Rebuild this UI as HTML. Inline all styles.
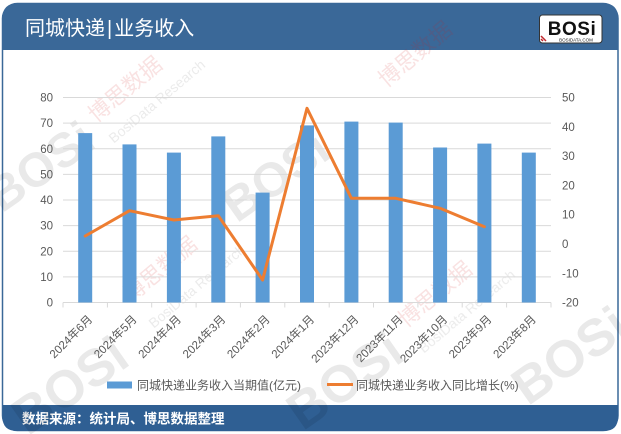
<!DOCTYPE html>
<html><head><meta charset="utf-8">
<style>
html,body{margin:0;padding:0;background:#fff;}
body{width:621px;height:434px;overflow:hidden;}
svg{display:block;font-family:"Liberation Sans","Noto Sans CJK SC",sans-serif;}
</style></head><body>
<svg width="621" height="434" viewBox="0 0 621 434" xmlns="http://www.w3.org/2000/svg">
<!-- frame -->
<rect x="2.5" y="3.5" width="615.5" height="427" rx="15" ry="15" fill="#ffffff" stroke="#3a6898" stroke-width="1.5"/>
<!-- header -->
<path d="M2.5,50 L2.5,18 Q2.5,3.5 17,3.5 L604,3.5 Q618,3.5 618,18 L618,50 Z" fill="#3a6898"/>
<text x="25" y="35" font-size="20" fill="#ffffff">同城快递<tspan dx="2">|</tspan><tspan dx="2">业务收入</tspan></text>
<!-- logo -->
<rect x="539.5" y="15" width="62.5" height="28" rx="3" fill="#ffffff" stroke="#333" stroke-width="1"/>
<text x="572" y="35" font-size="19" font-weight="bold" fill="#111" text-anchor="middle" font-family="Liberation Sans, sans-serif" letter-spacing="0.5">BOSi</text>
<text x="576" y="41.5" font-size="4.5" fill="#111" text-anchor="middle">BOSIDATA.COM</text>
<path d="M541,36 L546,41 M541,39 L543,41" stroke="#c0282d" stroke-width="1.5"/>
<!-- footer -->
<path d="M2.5,405 L618,405 L618,417 Q618,431 604,431 L17,431 Q2.5,431 2.5,417 Z" fill="#2f5f93"/>
<text x="22" y="423.5" font-size="13.5" fill="#ffffff" font-weight="bold">数据来源：统计局、博思数据整理</text>

<!-- watermarks -->
<g opacity="0.09" fill="#000" font-weight="bold" font-family="Liberation Sans, sans-serif">
<text x="50" y="180" font-size="48" transform="rotate(-35 50 180)" text-anchor="middle">BOSi</text>
<text x="285" y="190" font-size="48" transform="rotate(-35 285 190)" text-anchor="middle">BOSi</text>
<text x="80" y="400" font-size="52" transform="rotate(-35 80 400)" text-anchor="middle">BOSi</text>
<text x="355" y="395" font-size="52" transform="rotate(-35 355 395)" text-anchor="middle">BOSi</text>
<text x="580" y="370" font-size="52" transform="rotate(-35 580 370)" text-anchor="middle">BOSi</text>
</g>
<g opacity="0.13" fill="#d02020" font-size="22">
<text x="130" y="95" transform="rotate(-40 130 95)" text-anchor="middle">博思数据</text>
<text x="165" y="275" transform="rotate(-40 165 275)" text-anchor="middle">博思数据</text>
<text x="440" y="300" transform="rotate(-40 440 300)" text-anchor="middle">博思数据</text>
<text x="420" y="60" transform="rotate(-40 420 60)" text-anchor="middle">博思数据</text>
</g>
<g opacity="0.10" fill="#333" font-size="14">
<text x="160" y="105" transform="rotate(-40 160 105)" text-anchor="middle">BosiData Research</text>
<text x="200" y="290" transform="rotate(-40 200 290)" text-anchor="middle">BosiData Research</text>
<text x="470" y="315" transform="rotate(-40 470 315)" text-anchor="middle">BosiData Research</text>
</g>

<!-- gridlines -->
<g stroke="#d9d9d9" stroke-width="1">
<line x1="63" y1="97.5" x2="551" y2="97.5"/>
<line x1="63" y1="123.1" x2="551" y2="123.1"/>
<line x1="63" y1="148.8" x2="551" y2="148.8"/>
<line x1="63" y1="174.4" x2="551" y2="174.4"/>
<line x1="63" y1="200" x2="551" y2="200"/>
<line x1="63" y1="225.6" x2="551" y2="225.6"/>
<line x1="63" y1="251.3" x2="551" y2="251.3"/>
<line x1="63" y1="276.9" x2="551" y2="276.9"/>
<line x1="63" y1="302.5" x2="551" y2="302.5"/>
</g>
<!-- ticks -->
<g stroke="#d9d9d9" stroke-width="1">
<line x1="63" y1="302.5" x2="63" y2="307.5"/>
<line x1="107.4" y1="302.5" x2="107.4" y2="307.5"/>
<line x1="151.7" y1="302.5" x2="151.7" y2="307.5"/>
<line x1="196.1" y1="302.5" x2="196.1" y2="307.5"/>
<line x1="240.4" y1="302.5" x2="240.4" y2="307.5"/>
<line x1="284.8" y1="302.5" x2="284.8" y2="307.5"/>
<line x1="329.2" y1="302.5" x2="329.2" y2="307.5"/>
<line x1="373.5" y1="302.5" x2="373.5" y2="307.5"/>
<line x1="417.9" y1="302.5" x2="417.9" y2="307.5"/>
<line x1="462.2" y1="302.5" x2="462.2" y2="307.5"/>
<line x1="506.6" y1="302.5" x2="506.6" y2="307.5"/>
<line x1="551" y1="302.5" x2="551" y2="307.5"/>
</g>

<!-- bars -->
<g fill="#5b9bd5">
<rect x="78.2" y="133.1" width="14" height="169.4"/>
<rect x="122.5" y="144.4" width="14" height="158.1"/>
<rect x="166.9" y="152.6" width="14" height="149.9"/>
<rect x="211.3" y="136.4" width="14" height="166.1"/>
<rect x="255.6" y="192.6" width="14" height="109.9"/>
<rect x="300" y="125.4" width="14" height="177.1"/>
<rect x="344.4" y="121.6" width="14" height="180.9"/>
<rect x="388.7" y="122.6" width="14" height="179.9"/>
<rect x="433.1" y="147.5" width="14" height="155"/>
<rect x="477.4" y="143.6" width="14" height="158.9"/>
<rect x="521.8" y="152.6" width="14" height="149.9"/>
</g>

<!-- line -->
<polyline fill="none" stroke="#ed7d31" stroke-width="3" stroke-linejoin="round" stroke-linecap="round"
points="85.2,236 129.5,210.7 173.9,220 218.3,215.7 262.6,280 307,108.3 351.4,198.3 395.7,198.3 440.1,208.3 484.4,226.7"/>

<!-- left axis labels -->
<g font-size="11.5" fill="#595959" text-anchor="end">
<text x="53" y="101.5">80</text>
<text x="53" y="127.1">70</text>
<text x="53" y="152.8">60</text>
<text x="53" y="178.4">50</text>
<text x="53" y="204">40</text>
<text x="53" y="229.6">30</text>
<text x="53" y="255.3">20</text>
<text x="53" y="280.9">10</text>
<text x="53" y="306.5">0</text>
</g>
<!-- right axis labels -->
<g font-size="11.5" fill="#595959">
<text x="562" y="101.5">50</text>
<text x="562" y="130.8">40</text>
<text x="562" y="160.1">30</text>
<text x="562" y="189.4">20</text>
<text x="562" y="218.7">10</text>
<text x="562" y="248">0</text>
<text x="562" y="277.3">-10</text>
<text x="562" y="306.5">-20</text>
</g>

<!-- x labels -->
<g font-size="11.5" fill="#595959" text-anchor="end">
<text x="93.2" y="320" transform="rotate(-45 93.2 320)">2024年6月</text>
<text x="137.5" y="320" transform="rotate(-45 137.5 320)">2024年5月</text>
<text x="181.9" y="320" transform="rotate(-45 181.9 320)">2024年4月</text>
<text x="226.3" y="320" transform="rotate(-45 226.3 320)">2024年3月</text>
<text x="270.6" y="320" transform="rotate(-45 270.6 320)">2024年2月</text>
<text x="315" y="320" transform="rotate(-45 315 320)">2024年1月</text>
<text x="359.4" y="320" transform="rotate(-45 359.4 320)">2023年12月</text>
<text x="403.7" y="320" transform="rotate(-45 403.7 320)">2023年11月</text>
<text x="448.1" y="320" transform="rotate(-45 448.1 320)">2023年10月</text>
<text x="492.4" y="320" transform="rotate(-45 492.4 320)">2023年9月</text>
<text x="536.8" y="320" transform="rotate(-45 536.8 320)">2023年8月</text>
</g>

<!-- legend -->
<rect x="107" y="381.5" width="25" height="7" fill="#5b9bd5"/>
<text x="137" y="389.5" font-size="12" fill="#595959">同城快递业务收入当期值(亿元)</text>
<line x1="327" y1="384.5" x2="353" y2="384.5" stroke="#ed7d31" stroke-width="3"/>
<text x="356" y="389.5" font-size="12" fill="#595959">同城快递业务收入同比增长(%)</text>
</svg>
</body></html>
